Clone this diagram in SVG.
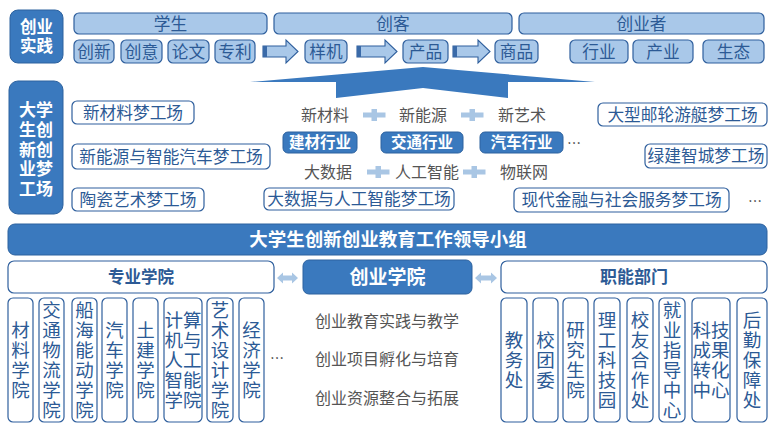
<svg xmlns="http://www.w3.org/2000/svg" width="780" height="431" viewBox="0 0 780 431">
<style>
text{font-family:"Noto Sans CJK SC","Microsoft YaHei",sans-serif;text-anchor:middle}
.lb{fill:#a9c8e9;stroke:#2f5f9d;stroke-width:1.2}
.ob{fill:#fff;stroke:#2f5f9d;stroke-width:1.2}
.db{fill:#3a79be;stroke:#2d629f;stroke-width:1}
.t{fill:#2c5a95;font-size:16.7px}
.w{fill:#fff;font-weight:bold}
.g{fill:#555;font-size:16px}
.v{fill:#2c5a95;font-size:18.5px}
.vv{fill:#2c5a95;font-size:18.5px;writing-mode:vertical-rl;letter-spacing:1.5px}
.pl{fill:#a9c6e4}
.ar{fill:#a9c8e9;stroke:#2f5f9d;stroke-width:1.1}
</style>
<rect width="780" height="431" fill="#fff"/>

<g id="practice">
<rect class="db" x="10" y="10" width="53" height="53" rx="8"/>
<text class="w" x="36.5" y="33" font-size="16.5">创业</text>
<text class="w" x="36.5" y="51.5" font-size="16.5">实践</text>
</g>

<g id="top-bars">
<rect class="lb" x="74" y="13" width="193" height="21" rx="5"/>
<text class="t" x="170.5" y="29.5" font-size="16">学生</text>
<rect class="lb" x="274" y="13" width="238" height="21" rx="5"/>
<text class="t" x="393" y="29.5" font-size="16">创客</text>
<rect class="lb" x="519" y="13" width="245" height="21" rx="5"/>
<text class="t" x="641.5" y="29.5" font-size="16">创业者</text>
</g>

<g id="top-items">
<rect class="lb" x="74" y="40" width="40" height="23" rx="5"/><text class="t" x="94" y="57.5">创新</text>
<rect class="lb" x="121" y="40" width="41" height="23" rx="5"/><text class="t" x="141.5" y="57.5">创意</text>
<rect class="lb" x="168" y="40" width="41" height="23" rx="5"/><text class="t" x="188.5" y="57.5">论文</text>
<rect class="lb" x="215" y="40" width="40" height="23" rx="5"/><text class="t" x="235" y="57.5">专利</text>
<rect class="lb" x="305" y="40" width="42" height="23" rx="5"/><text class="t" x="326" y="57.5">样机</text>
<rect class="lb" x="403" y="40" width="45" height="23" rx="5"/><text class="t" x="425.5" y="57.5">产品</text>
<rect class="lb" x="495" y="40" width="43" height="23" rx="5"/><text class="t" x="516.5" y="57.5">商品</text>
<rect class="lb" x="570" y="40" width="58" height="23" rx="5"/><text class="t" x="599" y="57.5">行业</text>
<rect class="lb" x="633" y="40" width="60" height="23" rx="5"/><text class="t" x="663" y="57.5">产业</text>
<rect class="lb" x="703" y="40" width="61" height="23" rx="5"/><text class="t" x="733.5" y="57.5">生态</text>
</g>

<g id="connectors">
<polygon class="ar" points="263,46 286,46 286,40 298,51.5 286,63 286,57 263,57"/>
<rect x="263" y="46" width="4" height="11" fill="#3a6aa8"/>
<polygon class="ar" points="357,46 385,46 385,40 397,51.5 385,63 385,57 357,57"/>
<rect x="357" y="46" width="4" height="11" fill="#3a6aa8"/>
<polygon class="ar" points="453,46 478,46 478,40 490,51.5 478,63 478,57 453,57"/>
<rect x="453" y="46" width="4" height="11" fill="#3a6aa8"/>
<polygon points="250,82 423,67 595,82 508,82 508,98 423,88 336,98 336,82" fill="#3a79be"/>
<polygon class="pl" points="277,278 283,272.5 283,275.5 292,275.5 292,272.5 298,278 292,283.5 292,280.5 283,280.5 283,283.5"/>
<polygon class="pl" points="475,278 481,272.5 481,275.5 491,275.5 491,272.5 497,278 491,283.5 491,280.5 481,280.5 481,283.5"/>
</g>

<g id="dream-factory">
<rect class="db" x="9" y="81" width="54" height="133" rx="9"/>
<text class="w" x="36" y="116.3" font-size="17">大学</text>
<text class="w" x="36" y="136" font-size="17">生创</text>
<text class="w" x="36" y="155.7" font-size="17">新创</text>
<text class="w" x="36" y="175.3" font-size="17">业梦</text>
<text class="w" x="36" y="195" font-size="17">工场</text>
</g>

<g id="factories">
<rect class="ob" x="72" y="101" width="122" height="23" rx="5"/><text class="t" x="133" y="118.7">新材料梦工场</text>
<rect class="ob" x="72" y="144" width="198" height="25" rx="5"/><text class="t" x="171" y="162.7">新能源与智能汽车梦工场</text>
<rect class="ob" x="72" y="188" width="132" height="23" rx="5"/><text class="t" x="138" y="205.7">陶瓷艺术梦工场</text>
<rect class="ob" x="264" y="188" width="190" height="22" rx="5"/><text class="t" x="359" y="205.2">大数据与人工智能梦工场</text>
<rect class="ob" x="598" y="103" width="169" height="23" rx="5"/><text class="t" x="682.5" y="120.7">大型邮轮游艇梦工场</text>
<rect class="ob" x="645" y="144" width="122" height="24" rx="5"/><text class="t" x="706" y="162.2">绿建智城梦工场</text>
<rect class="ob" x="514" y="188" width="215" height="24" rx="5"/><text class="t" x="621.5" y="206.2">现代金融与社会服务梦工场</text>
<text x="755" y="206" fill="#333" font-size="14">…</text>
</g>

<g id="industries">
<text class="g" x="325" y="121">新材料</text>
<text class="g" x="423" y="121">新能源</text>
<text class="g" x="522" y="121">新艺术</text>
<path class="pl" d="M363,112.5h8.5v-3.5h5.5v3.5h8.5v5h-8.5v3.5h-5.5v-3.5h-8.5z"/>
<path class="pl" d="M461,112.5h8.5v-3.5h5.5v3.5h8.5v5h-8.5v3.5h-5.5v-3.5h-8.5z"/>
<rect class="db" x="283" y="132" width="74" height="21" rx="5"/><text class="w" x="320" y="148" font-size="15.5">建材行业</text>
<rect class="db" x="381" y="132" width="82" height="21" rx="5"/><text class="w" x="422" y="148" font-size="15.5">交通行业</text>
<rect class="db" x="480" y="132" width="83" height="21" rx="5"/><text class="w" x="521.5" y="148" font-size="15.5">汽车行业</text>
<text x="574" y="148" fill="#333" font-size="14">…</text>
<text class="g" x="328" y="178">大数据</text>
<text class="g" x="427" y="178">人工智能</text>
<text class="g" x="524" y="178">物联网</text>
<path class="pl" d="M367,169.5h8.5v-3.5h5.5v3.5h8.5v5h-8.5v3.5h-5.5v-3.5h-8.5z"/>
<path class="pl" d="M463,169.5h8.5v-3.5h5.5v3.5h8.5v5h-8.5v3.5h-5.5v-3.5h-8.5z"/>
</g>

<g id="leading-group">
<rect class="db" x="8" y="224" width="759" height="31" rx="7"/>
<text class="w" x="388" y="246" font-size="18.5">大学生创新创业教育工作领导小组</text>
</g>

<g id="colleges">
<rect class="ob" x="8" y="261" width="266" height="32" rx="6"/>
<text x="141" y="283" font-size="16.5" font-weight="bold" fill="#2c5a95">专业学院</text>
</g>

<g id="entrepreneurship-college">
<rect class="db" x="303" y="260" width="169" height="34" rx="6"/>
<text class="w" x="387.5" y="284" font-size="19">创业学院</text>
<text class="g" x="387" y="327" font-size="16.5">创业教育实践与教学</text>
<text class="g" x="387" y="365" font-size="16.5">创业项目孵化与培育</text>
<text class="g" x="387" y="404" font-size="16.5">创业资源整合与拓展</text>
</g>

<g id="departments">
<rect class="ob" x="501" y="261" width="266" height="32" rx="6"/>
<text x="634" y="283" font-size="17" font-weight="bold" fill="#2c5a95">职能部门</text>
</g>

<g id="college-list">
<rect class="ob" x="8" y="298" width="25" height="124" rx="5"/>
<text class="vv" x="20.5" y="361">材料学院</text>
<rect class="ob" x="39" y="298" width="25" height="124" rx="5"/>
<text class="vv" x="51.5" y="361">交通物流学院</text>
<rect class="ob" x="72" y="298" width="25" height="124" rx="5"/>
<text class="vv" x="84.5" y="361">船海能动学院</text>
<rect class="ob" x="102" y="298" width="25" height="124" rx="5"/>
<text class="vv" x="114.5" y="361">汽车学院</text>
<rect class="ob" x="133" y="298" width="25" height="124" rx="5"/>
<text class="vv" x="145.5" y="361">土建学院</text>
<rect class="ob" x="164" y="298" width="38" height="124" rx="5"/>
<text class="v" x="183" y="326.8">计算<tspan x="183" dy="20">机与</tspan><tspan x="183" dy="20">人工</tspan><tspan x="183" dy="20">智能</tspan><tspan x="183" dy="20">学院</tspan></text>
<rect class="ob" x="207" y="298" width="26" height="124" rx="5"/>
<text class="vv" x="220" y="361">艺术设计学院</text>
<rect class="ob" x="239" y="298" width="25" height="124" rx="5"/>
<text class="vv" x="251.5" y="361">经济学院</text>
<text x="277" y="363" fill="#333" font-size="14">…</text>
</g>

<g id="department-list">
<rect class="ob" x="501" y="298" width="26" height="124" rx="5"/>
<text class="vv" x="514" y="361">教务处</text>
<rect class="ob" x="533" y="298" width="25" height="124" rx="5"/>
<text class="vv" x="545.5" y="361">校团委</text>
<rect class="ob" x="563" y="298" width="25" height="124" rx="5"/>
<text class="vv" x="575.5" y="361">研究生院</text>
<rect class="ob" x="594" y="298" width="26" height="124" rx="5"/>
<text class="vv" x="607" y="361">理工科技园</text>
<rect class="ob" x="627" y="298" width="26" height="124" rx="5"/>
<text class="vv" x="640" y="361">校友合作处</text>
<rect class="ob" x="659" y="298" width="26" height="124" rx="5"/>
<text class="vv" x="672" y="361">就业指导中心</text>
<rect class="ob" x="692" y="298" width="38" height="124" rx="5"/>
<text class="v" x="711" y="336.8">科技<tspan x="711" dy="20">成果</tspan><tspan x="711" dy="20">转化</tspan><tspan x="711" dy="20">中心</tspan></text>
<rect class="ob" x="737" y="298" width="30" height="124" rx="5"/>
<text class="vv" x="752" y="361">后勤保障处</text>
</g>
</svg>
